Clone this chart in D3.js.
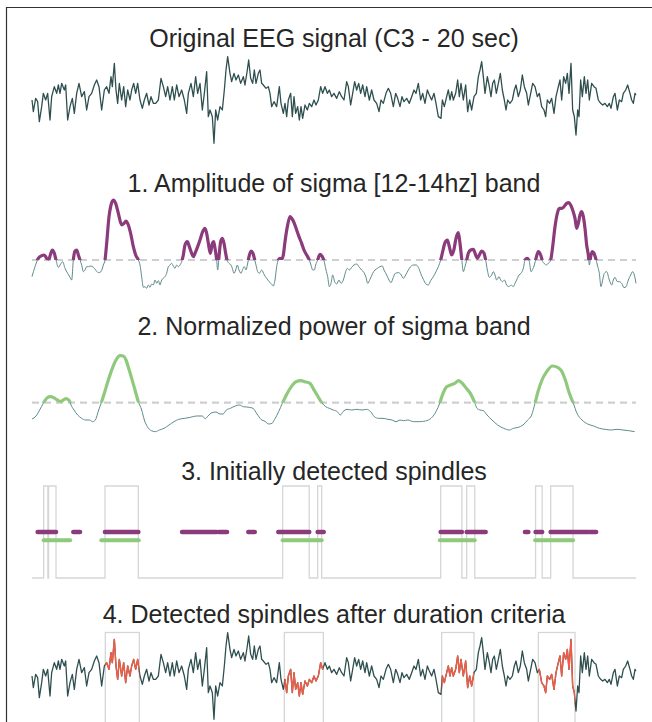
<!DOCTYPE html>
<html><head><meta charset="utf-8">
<script src="https://cdn.jsdelivr.net/npm/d3@7"></script>
<style>html,body{margin:0;padding:0;background:#fff;} svg{display:block;}</style>
</head><body><svg id="c" width="652" height="722"></svg>
<script>
// ---------- data (time in samples, 20 s recording, fs ~ 90.6 Hz) ----------
const N_SAMPLES = 1812;
const titles = [
  "Original EEG signal (C3 - 20 sec)",
  "1. Amplitude of sigma [12-14hz] band",
  "2. Normalized power of sigma band",
  "3. Initially detected spindles",
  "4. Detected spindles after duration criteria"
];
// raw EEG: [sample, microvolts]
const eeg = [[0,0],[4,-17.5],[11,2.5],[17,-2.5],[22,-32.5],[29,-10],[34,10],[41,0],[47,10],[54,-30],[59,5],[67,20],[74,10],[79,22.5],[84,10],[89,25],[97,15],[101,22.5],[107,-30],[114,-10],[121,2.5],[127,-20],[134,10],[141,25],[149,5],[157,12.5],[164,-15],[171,5],[179,10],[187,22.5],[194,30],[201,20],[209,-15],[217,15],[224,20],[231,10],[237,35],[241,20],[247,55],[252,15],[257,-5],[262,25],[269,0],[275,20],[281,-10],[287,15],[294,0],[299,15],[305,25],[311,10],[317,25],[324,0],[331,-12.5],[337,0],[344,10],[351,-7.5],[357,5],[364,-5],[371,-5],[379,0],[387,32.5],[394,20],[401,5],[407,20],[414,0],[421,20],[427,0],[434,22.5],[441,5],[449,15],[457,0],[464,-20],[469,10],[477,25],[484,5],[491,35],[497,10],[504,25],[511,-15],[517,10],[524,42.5],[529,-25],[534,-15],[541,-25],[546,-65],[551,-15],[557,-30],[564,-10],[571,-15],[577,15],[582,45],[587,65],[594,40],[599,27.5],[606,40],[612,30],[619,37.5],[626,25],[634,35],[639,22.5],[646,45],[650,60],[656,32.5],[662,25],[667,45],[672,25],[679,40],[684,45],[689,25],[694,22.5],[702,17.5],[709,20],[714,10],[719,-10],[726,-2.5],[734,-10],[742,20],[747,-5],[754,-20],[759,-5],[764,-25],[769,0],[776,10],[781,-25],[786,5],[791,-20],[797,-10],[802,-30],[807,-10],[812,-27.5],[819,-7.5],[826,-15],[832,-5],[839,-10],[846,0],[852,-7.5],[859,0],[866,20],[872,10],[879,20],[886,10],[892,15],[899,5],[906,10],[914,2.5],[922,12.5],[929,5],[936,0],[944,27.5],[949,20],[956,-7.5],[962,10],[968,27.5],[974,15],[980,25],[986,10],[992,22.5],[999,5],[1004,20],[1012,0],[1019,15],[1026,0],[1034,-5],[1041,-17.5],[1047,0],[1054,-5],[1062,10],[1069,17.5],[1076,10],[1084,-10],[1091,10],[1097,2.5],[1104,-10],[1110,5],[1116,-2.5],[1124,2.5],[1132,-5],[1139,5],[1146,15],[1152,10],[1159,25],[1166,0],[1172,10],[1179,-5],[1186,15],[1192,7.5],[1199,0],[1206,10],[1212,-5],[1219,-25],[1227,-27.5],[1231,0],[1237,-10],[1244,5],[1249,15],[1254,0],[1259,12.5],[1264,0],[1271,10],[1277,30],[1282,5],[1287,25],[1294,0],[1301,22.5],[1307,-17.5],[1313,0],[1319,-15],[1326,5],[1333,10],[1339,35],[1344,45],[1349,57.5],[1354,35],[1359,10],[1366,35],[1372,20],[1377,5],[1382,25],[1387,30],[1393,10],[1399,25],[1405,40],[1411,15],[1417,0],[1422,-15],[1427,0],[1434,-5],[1441,0],[1447,15],[1452,22.5],[1459,5],[1465,15],[1471,37.5],[1477,20],[1484,10],[1489,-7.5],[1496,10],[1502,25],[1509,20],[1516,5],[1522,10],[1529,-10],[1536,-15],[1541,-25],[1546,0],[1553,-5],[1559,2.5],[1566,-20],[1572,5],[1579,20],[1584,30],[1589,0],[1595,35],[1601,25],[1606,40],[1611,10],[1617,55],[1622,-15],[1627,-25],[1632,-52.5],[1637,-15],[1641,-25],[1646,30],[1651,5],[1657,35],[1662,10],[1667,30],[1672,0],[1679,25],[1686,20],[1692,17.5],[1699,0],[1706,-5],[1712,-7.5],[1719,-5],[1726,-10],[1732,-5],[1737,-12.5],[1744,5],[1749,10],[1756,-15],[1762,0],[1769,-2.5],[1774,10],[1781,15],[1787,22.5],[1794,10],[1799,0],[1804,-5],[1809,10],[1812,7.5]];
// sigma-band amplitude: [sample, amplitude]
const sigma = [[0,4.0],[9,7.0],[19,9.5],[29,10.3],[37,10.5],[44,9.5],[49,8.8],[55,10.5],[61,12.0],[67,11.0],[72,9.0],[79,6.8],[86,7.8],[92,8.5],[99,6.5],[107,5.0],[114,3.8],[119,3.0],[124,9.0],[129,11.7],[134,12.0],[139,10.5],[144,9.0],[149,7.5],[154,5.5],[159,6.0],[164,7.0],[169,7.0],[177,7.2],[184,6.8],[191,6.0],[199,5.2],[207,5.5],[214,7.5],[219,9.0],[224,14.0],[231,22.0],[237,25.5],[244,27.0],[251,26.0],[259,23.0],[269,19.5],[276,20.0],[282,20.7],[289,19.5],[297,16.5],[304,13.0],[311,10.5],[319,9.0],[324,7.5],[329,4.0],[334,0.8],[339,1.0],[344,0.5],[349,1.5],[354,0.8],[359,1.8],[364,1.5],[369,3.0],[374,2.0],[379,2.8],[384,1.5],[389,3.0],[394,3.5],[399,4.0],[404,5.0],[409,7.0],[414,7.5],[419,8.0],[424,7.2],[429,6.5],[434,7.5],[439,7.0],[444,7.5],[449,8.5],[454,10.5],[459,13.5],[466,14.5],[472,13.0],[479,11.0],[484,10.0],[489,11.0],[497,13.0],[504,15.0],[512,17.5],[519,18.5],[524,17.0],[529,14.0],[535,11.0],[541,14.0],[545,14.5],[549,12.5],[554,9.0],[557,6.0],[561,10.0],[566,14.5],[571,15.5],[576,14.0],[581,11.0],[585,9.0],[591,8.0],[597,7.5],[601,6.5],[606,5.0],[611,6.0],[616,7.5],[621,6.0],[627,5.0],[632,6.2],[637,7.0],[642,6.0],[646,7.5],[651,10.0],[657,11.7],[663,11.0],[667,9.5],[672,7.5],[677,5.5],[682,5.0],[689,6.0],[697,4.5],[704,3.5],[711,2.5],[719,1.8],[724,1.2],[729,3.0],[734,7.0],[739,9.0],[744,9.5],[749,9.2],[754,10.5],[759,14.5],[766,19.0],[774,22.0],[779,21.5],[787,20.0],[794,18.0],[801,16.0],[809,14.0],[816,12.0],[824,10.5],[831,9.2],[837,7.5],[842,6.0],[847,6.0],[851,7.5],[857,9.0],[864,10.7],[871,10.0],[876,8.8],[882,6.0],[887,4.0],[892,1.0],[897,2.0],[902,4.5],[908,2.5],[914,1.8],[921,3.0],[927,2.0],[934,3.0],[941,5.5],[946,6.5],[952,6.0],[959,6.8],[966,7.5],[974,7.8],[982,6.8],[989,6.0],[996,5.2],[1002,3.8],[1007,2.0],[1014,3.2],[1022,5.0],[1029,6.0],[1036,6.5],[1044,7.0],[1051,7.2],[1056,6.0],[1064,4.5],[1071,3.0],[1077,2.2],[1084,3.8],[1090,5.0],[1099,5.2],[1106,4.8],[1114,3.5],[1121,4.5],[1129,6.0],[1136,7.0],[1144,7.5],[1152,7.5],[1159,6.8],[1166,5.0],[1174,3.2],[1182,1.8],[1189,1.5],[1196,2.8],[1204,4.0],[1212,5.5],[1219,7.0],[1226,9.0],[1232,11.5],[1239,14.2],[1246,15.0],[1252,13.0],[1259,10.5],[1266,12.2],[1272,15.5],[1279,17.2],[1284,14.0],[1289,9.5],[1294,5.5],[1299,7.0],[1304,9.0],[1309,11.0],[1316,12.0],[1324,12.2],[1331,10.5],[1336,9.5],[1342,10.5],[1349,11.7],[1356,11.0],[1361,9.0],[1366,6.0],[1372,3.8],[1379,4.5],[1384,5.5],[1389,4.5],[1394,3.0],[1401,4.0],[1406,3.0],[1412,2.5],[1417,3.0],[1424,1.5],[1431,1.0],[1437,1.5],[1444,1.0],[1449,2.0],[1454,3.0],[1461,4.5],[1467,5.0],[1474,6.5],[1479,9.0],[1486,9.5],[1492,8.5],[1497,5.5],[1502,6.2],[1507,7.5],[1512,9.5],[1519,11.5],[1526,10.5],[1532,8.5],[1537,8.0],[1542,7.5],[1549,8.0],[1556,9.0],[1562,13.0],[1569,19.0],[1576,23.0],[1582,24.5],[1589,24.5],[1596,25.0],[1604,26.0],[1610,26.2],[1616,25.5],[1622,24.0],[1629,21.5],[1634,18.5],[1639,20.0],[1644,22.5],[1649,23.5],[1654,22.0],[1659,18.5],[1664,13.5],[1669,10.5],[1672,7.5],[1676,10.0],[1681,11.5],[1686,11.0],[1691,9.5],[1696,7.5],[1702,5.0],[1707,1.0],[1712,3.0],[1717,5.0],[1724,5.5],[1732,3.0],[1739,1.5],[1744,3.0],[1749,3.8],[1756,2.5],[1762,2.5],[1769,2.0],[1776,0.7],[1782,1.0],[1789,3.0],[1796,4.5],[1802,5.5],[1807,4.5],[1812,2.0]];
// normalized sigma power: [sample, power]
const power = [[0,6.3],[12,7.2],[23,9.0],[35,11.2],[47,12.8],[55,13.0],[65,12.7],[76,12.0],[86,11.5],[94,12.0],[102,12.4],[112,11.8],[117,10.5],[126,9.0],[137,7.5],[149,6.5],[161,6.0],[173,6.0],[182,5.5],[190,6.0],[200,9.0],[208,11.2],[217,14.0],[229,18.0],[241,21.5],[252,24.0],[264,25.3],[274,25.2],[282,24.0],[290,21.5],[299,18.5],[309,15.0],[319,11.5],[329,9.0],[337,6.0],[346,4.0],[358,2.8],[370,2.5],[382,3.0],[396,3.5],[411,4.5],[426,5.5],[440,6.2],[458,6.5],[475,6.8],[493,7.2],[511,7.2],[520,6.4],[528,7.2],[540,8.2],[552,8.4],[564,7.8],[573,7.8],[583,9.0],[595,9.5],[610,10.2],[622,10.5],[634,10.0],[652,9.8],[663,9.5],[675,7.8],[687,6.2],[699,5.6],[710,4.8],[720,5.0],[728,6.2],[740,8.5],[751,11.0],[763,13.5],[778,16.0],[792,17.5],[807,17.8],[818,17.5],[834,17.0],[845,15.2],[857,13.2],[869,11.2],[881,10.0],[892,9.5],[904,9.0],[916,8.5],[925,7.5],[933,8.5],[945,9.2],[959,9.0],[974,9.2],[990,9.0],[1004,9.2],[1016,8.5],[1027,7.0],[1039,6.5],[1053,6.5],[1068,6.2],[1080,6.0],[1092,5.5],[1104,6.0],[1115,5.8],[1127,6.0],[1145,5.5],[1162,5.5],[1180,5.7],[1197,6.5],[1209,8.0],[1221,10.5],[1233,14.0],[1244,16.0],[1256,16.5],[1268,17.0],[1280,17.8],[1291,17.0],[1303,15.5],[1315,14.0],[1327,11.5],[1335,9.5],[1344,9.0],[1354,8.8],[1365,7.5],[1380,6.0],[1397,4.5],[1415,3.5],[1432,3.0],[1444,3.5],[1459,3.8],[1473,4.5],[1487,6.0],[1499,7.5],[1509,11.0],[1518,14.5],[1530,18.0],[1544,20.5],[1561,22.2],[1577,21.8],[1588,20.8],[1600,18.0],[1612,14.0],[1624,11.0],[1635,8.0],[1650,6.0],[1667,4.8],[1685,4.2],[1702,3.5],[1720,3.2],[1738,3.0],[1755,3.2],[1773,3.0],[1790,2.8],[1808,2.5]];
const SIGMA_THR = 9.0;
const POWER_THR = 11.2;
// spindles kept after the duration criteria: [start, end] in samples
const finalSpindles = [[220,322],[757,874],[1229,1326],[1519,1629]];

// ---------- drawing ----------
const svg = d3.select('#c');
const COL = {text:'#262626', eeg:'#2f4f4f', thin:'#5f8b8a', purple:'#8b3b7b', green:'#8fc97c', red:'#f45b45', dash:'#cfcfcf', box:'#d6d6d6'};
const x = d3.scaleLinear().domain([0, N_SAMPLES]).range([32, 636]);
const yEeg1 = d3.scaleLinear().domain([-75, 75]).range([150, 50]);
const yEeg5 = d3.scaleLinear().domain([-75, 75]).range([726, 626]);
const ySig = d3.scaleLinear().domain([0, 30]).range([290, 190]);
const yPow = d3.scaleLinear().domain([0, 30]).range([440, 340]);
const yDet = d3.scaleLinear().domain([0, 1]).range([578, 486]);
const titleY = [46.5, 191.5, 335, 480, 623];

// frame
svg.append('path').attr('d', 'M6.5,722 V7.5 H652').attr('fill','none').attr('stroke','#333').attr('stroke-width',1.2);

svg.selectAll('text.title').data(titles).join('text').attr('class','title')
  .attr('x', 334).attr('y', (d,i)=>titleY[i]).attr('text-anchor','middle')
  .attr('font-family','"Liberation Sans", Arial, sans-serif').attr('font-size',25)
  .attr('fill', COL.text).text(d=>d);

function intervalsAbove(data, thr){
  const out=[]; let start=null;
  for(let i=0;i<data.length;i++){
    const [t,v]=data[i]; const above=v>thr;
    if(above && start===null){
      if(i===0) start=t; else {const [t0,v0]=data[i-1]; start=t0+(thr-v0)/(v-v0)*(t-t0);}
    } else if(!above && start!==null){
      const [t0,v0]=data[i-1]; out.push([start, t0+(thr-v0)/(v-v0)*(t-t0)]); start=null;
    }
  }
  if(start!==null) out.push([start, data[data.length-1][0]]);
  return out;
}
const defs = svg.append('defs');
function clipAbove(id, yv){ defs.append('clipPath').attr('id',id).append('rect').attr('x',0).attr('y',0).attr('width',652).attr('height',yv); }

// panel 1
svg.append('path').datum(eeg).attr('fill','none').attr('stroke',COL.eeg).attr('stroke-width',1.3).attr('stroke-linejoin','round')
  .attr('d', d3.line().x(d=>x(d[0])).y(d=>yEeg1(d[1])));

// panel 2
const lineSig = d3.line().x(d=>x(d[0])).y(d=>ySig(d[1])).curve(d3.curveMonotoneX);
svg.append('line').attr('x1',x(0)).attr('x2',x(N_SAMPLES)).attr('y1',ySig(SIGMA_THR)).attr('y2',ySig(SIGMA_THR))
  .attr('stroke',COL.dash).attr('stroke-width',2.2).attr('stroke-dasharray','7,5');
svg.append('path').datum(sigma).attr('fill','none').attr('stroke',COL.thin).attr('stroke-width',1).attr('d',lineSig);
clipAbove('clipSig', ySig(SIGMA_THR));
svg.append('path').datum(sigma).attr('fill','none').attr('stroke',COL.purple).attr('stroke-width',3.2)
  .attr('stroke-linejoin','round').attr('clip-path','url(#clipSig)').attr('d',lineSig);

// panel 3
const linePow = d3.line().x(d=>x(d[0])).y(d=>yPow(d[1])).curve(d3.curveMonotoneX);
svg.append('line').attr('x1',x(0)).attr('x2',x(N_SAMPLES)).attr('y1',yPow(POWER_THR)).attr('y2',yPow(POWER_THR))
  .attr('stroke',COL.dash).attr('stroke-width',2.2).attr('stroke-dasharray','7,5');
svg.append('path').datum(power).attr('fill','none').attr('stroke',COL.thin).attr('stroke-width',1).attr('d',linePow);
clipAbove('clipPow', yPow(POWER_THR));
svg.append('path').datum(power).attr('fill','none').attr('stroke',COL.green).attr('stroke-width',3.2)
  .attr('stroke-linejoin','round').attr('clip-path','url(#clipPow)').attr('d',linePow);

// panel 4
const sigIv = intervalsAbove(sigma, SIGMA_THR);
const powIv = intervalsAbove(power, POWER_THR);
const boxes = [];
sigIv.forEach(a=>powIv.forEach(b=>{const s=Math.max(a[0],b[0]), e=Math.min(a[1],b[1]); if(s<e) boxes.push([s,e]);}));
boxes.sort((a,b)=>a[0]-b[0]);
const step=[[0,0]]; boxes.forEach(([s,e])=>{step.push([s,0],[s,1],[e,1],[e,0]);}); step.push([N_SAMPLES,0]);
svg.append('path').datum(step).attr('fill','none').attr('stroke',COL.box).attr('stroke-width',1.3)
  .attr('d', d3.line().x(d=>x(d[0])).y(d=>yDet(d[1])));
svg.selectAll('line.sig').data(sigIv).join('line').attr('class','sig')
  .attr('x1',d=>x(d[0])).attr('x2',d=>x(d[1])).attr('y1',yDet(0.5)).attr('y2',yDet(0.5))
  .attr('stroke',COL.purple).attr('stroke-width',4.6).attr('stroke-linecap','round');
svg.selectAll('line.pow').data(powIv).join('line').attr('class','pow')
  .attr('x1',d=>x(d[0])).attr('x2',d=>x(d[1])).attr('y1',yDet(0.41)).attr('y2',yDet(0.41))
  .attr('stroke',COL.green).attr('stroke-width',4).attr('stroke-linecap','round');

// panel 5
svg.selectAll('rect.sp').data(finalSpindles).join('rect').attr('class','sp')
  .attr('x',d=>x(d[0])).attr('width',d=>x(d[1])-x(d[0])).attr('y',632.5).attr('height',120)
  .attr('fill','none').attr('stroke',COL.box).attr('stroke-width',1.3);
const lineE5 = d3.line().x(d=>x(d[0])).y(d=>yEeg5(d[1]));
svg.append('path').datum(eeg).attr('fill','none').attr('stroke',COL.eeg).attr('stroke-width',1.3).attr('stroke-linejoin','round').attr('d',lineE5);
const cp = defs.append('clipPath').attr('id','clipSp');
cp.selectAll('rect').data(finalSpindles).join('rect').attr('x',d=>x(d[0])).attr('width',d=>x(d[1])-x(d[0])).attr('y',600).attr('height',200);
svg.append('path').datum(eeg).attr('fill','none').attr('stroke',COL.red).attr('stroke-width',1.4).attr('stroke-linejoin','round')
  .attr('clip-path','url(#clipSp)').attr('d',lineE5);
</script></body></html>
